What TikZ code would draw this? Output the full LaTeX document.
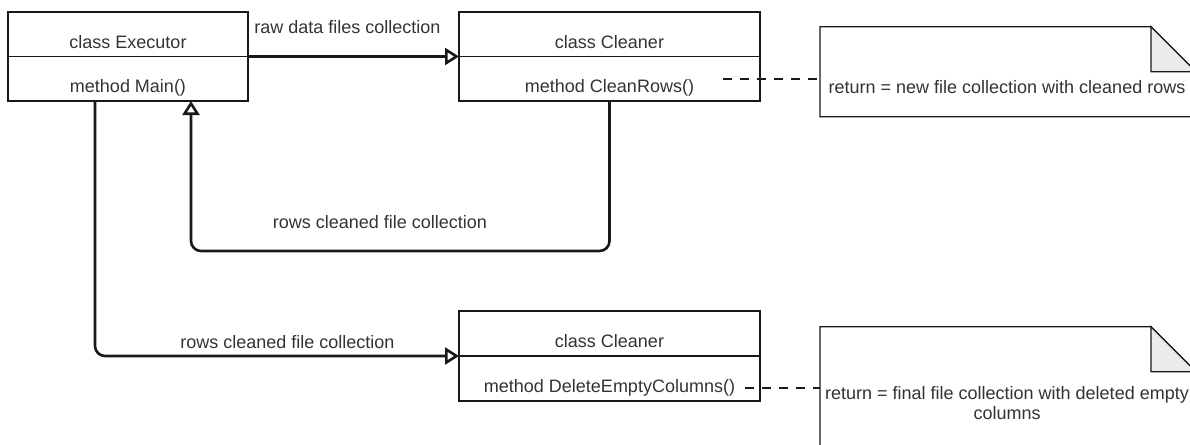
\documentclass[tikz,border=0pt]{standalone}
\usepackage{fontspec}
\setmainfont{Liberation Sans}
\usetikzlibrary{arrows.meta,calc}
\definecolor{foldgray}{HTML}{EBEBEB}
\definecolor{txt}{HTML}{333333}
\begin{document}
\begin{tikzpicture}[x=1pt,y=-1pt,
  every node/.style={font=\fontsize{18}{20}\selectfont, text=txt},
  box/.style={draw=black!90, line width=1.3pt, rectangle, inner sep=0pt, outer sep=0pt},
  divider/.style={draw=black!90, line width=1.3pt},
  notebox/.style={rectangle, draw=none, inner sep=0pt, outer sep=0pt},
  noteline/.style={draw=black!90, line width=1.3pt, line join=miter},
  conn/.style={draw=black!90, line width=2.6pt, rounded corners=10pt,
    -{Triangle[open,length=14pt,width=17pt,line width=2.6pt]}},
  dashline/.style={draw=black!90, line width=2.6pt, dash pattern=on 9pt off 8pt},
  lbl/.style={inner sep=0pt}]
\useasboundingbox (0,0) rectangle (1190,444);
\clip (0,0) rectangle (1190,444);

% class boxes
\node[box, minimum width=240pt, minimum height=89pt] (exec) at (128,56.5) {};
\draw[divider] (exec.west) -- (exec.east);
\node[lbl] (execT) at (128,42) {class Executor};
\node[lbl] (execM) at (128,88) {method Main()};

\node[box, minimum width=301pt, minimum height=89pt] (clean1) at (609.5,56.5) {};
\draw[divider] (clean1.west) -- (clean1.east);
\node[lbl] (clean1T) at (609.5,42) {class Cleaner};
\node[lbl] (clean1M) at (609.5,88) {method CleanRows()};

\node[box, minimum width=301pt, minimum height=90pt] (clean2) at (609.5,356) {};
\draw[divider] (clean2.west) -- (clean2.east);
\node[lbl] (clean2T) at (609.5,341.5) {class Cleaner};
\node[lbl] (clean2M) at (609.5,388) {method DeleteEmptyColumns()};

% notes
\node[notebox, minimum width=376pt, minimum height=90pt] (note1) at (1008,71.7) {};
\draw[noteline, fill=white] (note1.north west) -- ([xshift=-45pt]note1.north east)
  -- ([yshift=-45pt]note1.north east) -- (note1.south east) -- (note1.south west) -- cycle;
\draw[noteline, fill=foldgray] ([xshift=-45pt]note1.north east) -- ([xshift=-45pt,yshift=-45pt]note1.north east)
  -- ([yshift=-45pt]note1.north east) -- cycle;
\node[lbl] (note1T) at (1007,87.5) {return = new file collection with cleaned rows};

\node[notebox, minimum width=376pt, minimum height=125pt] (note2) at (1008,389.2) {};
\draw[noteline, fill=white] (note2.north west) -- ([xshift=-45pt]note2.north east)
  -- ([yshift=-45pt]note2.north east) -- (note2.south east) -- (note2.south west) -- cycle;
\draw[noteline, fill=foldgray] ([xshift=-45pt]note2.north east) -- ([xshift=-45pt,yshift=-45pt]note2.north east)
  -- ([yshift=-45pt]note2.north east) -- cycle;
\node[lbl, align=center] (note2T) at (1007,403.5) {return = final file collection with deleted empty\\columns};

% dashed links
\coordinate (d1) at (723,79);
\coordinate (d2) at (745,388);
\draw[dashline] (d1) -- (d1 -| note1.west);
\draw[dashline] (d2) -- (d2 -| note2.west);

% connectors
\draw[conn] (exec.east) -- (clean1.west);
\node[lbl] (l1) at (347.5,27) {raw data files collection};

\coordinate (r1) at (191,251);
\draw[conn] (clean1.south) |- (r1) -- (r1 |- exec.south);
\node[lbl] (l2) at (380,222) {rows cleaned file collection};

\coordinate (r2) at (95,356);
\draw[conn] (r2 |- exec.south) -- (r2) -- (clean2.west);
\node[lbl] (l3) at (287.5,342) {rows cleaned file collection};
\end{tikzpicture}
\end{document}
